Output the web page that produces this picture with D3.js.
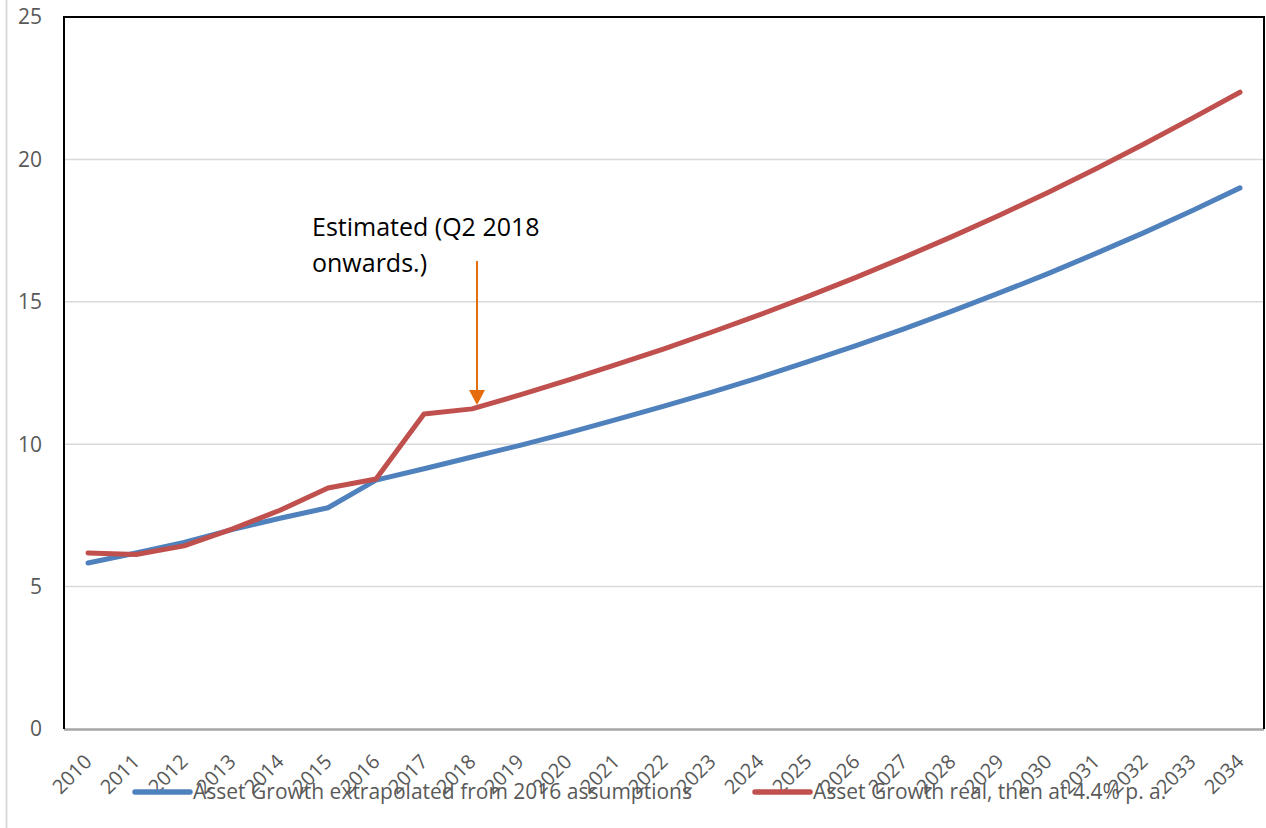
<!DOCTYPE html>
<html>
<head>
<meta charset="utf-8">
<script src="https://cdn.jsdelivr.net/npm/d3@7"></script>
<style>
  body { margin: 0; background: #fff; }
  svg { display: block; font-family: 'Open Sans', sans-serif; }
</style>
</head>
<body>
<div id="container"></div>
<script>
const years = ['2010', '2011', '2012', '2013', '2014', '2015', '2016', '2017', '2018', '2019', '2020', '2021',
  '2022', '2023', '2024', '2025', '2026', '2027', '2028', '2029', '2030', '2031', '2032', '2033', '2034'];
const extrapolated = [5.83, 6.18, 6.55, 7.0, 7.4, 7.77, 8.74, 9.14, 9.55, 9.96, 10.4, 10.86, 11.34, 11.83,
  12.35, 12.9, 13.46, 14.05, 14.67, 15.32, 15.99, 16.7, 17.43, 18.2, 19.0];
const real = [6.18, 6.13, 6.43, 7.02, 7.68, 8.46, 8.78, 11.06, 11.24, 11.73, 12.25, 12.79, 13.35, 13.94,
  14.55, 15.19, 15.86, 16.56, 17.29, 18.05, 18.84, 19.67, 20.54, 21.44, 22.36];
const yTicks = [0, 5, 10, 15, 20, 25];
const seriesNames = ['Asset Growth extrapolated from 2016 assumptions', 'Asset Growth real, then at 4.4% p. a.'];
const seriesColors = ['#4F81BD', '#C0504D'];
const noteLines = ['Estimated (Q2 2018', 'onwards.)'];
const noteYear = '2018';

const width = 1266; const height = 828;
const m = {left: 64, right: 2, top: 17, bottom: 99};

const svg = d3.select('#container').append('svg')
    .attr('width', width)
    .attr('height', height);

// outer frame edge
svg.append('line').attr('x1', 6.5).attr('x2', 6.5).attr('y1', 0).attr('y2', height)
    .attr('stroke', '#d9d9d9').attr('stroke-width', 2);

const x = d3.scaleBand().domain(years).range([m.left, width - m.right]);
const y = d3.scaleLinear().domain([0, 25]).range([height - m.bottom, m.top]);
const cx = (d) => x(d) + x.bandwidth() / 2;

// gridlines
svg.append('g')
    .selectAll('line')
    .data(yTicks.slice(1, -1))
    .join('line')
    .attr('x1', m.left).attr('x2', width - m.right)
    .attr('y1', (d) => y(d)).attr('y2', (d) => y(d))
    .attr('stroke', '#d9d9d9').attr('stroke-width', 1.5);

// y labels
svg.append('g')
    .selectAll('text')
    .data(yTicks)
    .join('text')
    .attr('x', 42).attr('y', (d) => y(d))
    .attr('dy', '0.35em')
    .attr('text-anchor', 'end')
    .attr('fill', '#595959')
    .style('font-size', '21px')
    .text((d) => d);

// x axis line
svg.append('line')
    .attr('x1', m.left).attr('x2', width - m.right)
    .attr('y1', y(0) + 0.5).attr('y2', y(0) + 0.5)
    .attr('stroke', '#a6a6a6').attr('stroke-width', 2.5);

// plot border (left, top, right)
svg.append('path')
    .attr('d', `M${m.left},${y(0)}V${m.top}H${width - m.right}V${y(0)}`)
    .attr('fill', 'none').attr('stroke', '#000').attr('stroke-width', 2);

// x labels
svg.append('g')
    .selectAll('text')
    .data(years)
    .join('text')
    .attr('transform', (d) => `translate(${cx(d) + 5},${y(0) + 34}) rotate(-45)`)
    .attr('text-anchor', 'end')
    .attr('fill', '#595959')
    .style('font-size', '20px')
    .text((d) => d);

// lines
const line = d3.line()
    .x((d, i) => cx(years[i]))
    .y((d) => y(d));

[extrapolated, real].forEach((s, i) => {
  svg.append('path')
      .datum(s)
      .attr('d', line)
      .attr('fill', 'none')
      .attr('stroke', seriesColors[i])
      .attr('stroke-width', 5)
      .attr('stroke-linecap', 'round')
      .attr('stroke-linejoin', 'round');
});

// annotation
const note = svg.append('g');
note.selectAll('text')
    .data(noteLines)
    .join('text')
    .attr('x', 312)
    .attr('y', (d, i) => 236 + i * 36)
    .attr('fill', '#000')
    .style('font-size', '25px')
    .text((d) => d);

const ax = cx(noteYear) + 5;
const tipY = y(real[years.indexOf(noteYear)]) - 4;
note.append('line')
    .attr('x1', ax).attr('x2', ax)
    .attr('y1', 261).attr('y2', tipY - 12)
    .attr('stroke', '#E46C0A').attr('stroke-width', 2);
note.append('path')
    .attr('d', `M${ax - 8},${tipY - 15}L${ax + 8},${tipY - 15}L${ax},${tipY}Z`)
    .attr('fill', '#E46C0A');

// legend
const legendX = [135, 755];
const legend = svg.append('g')
    .selectAll('g')
    .data(seriesNames)
    .join('g')
    .attr('transform', (d, i) => `translate(${legendX[i]},792)`);
legend.append('line')
    .attr('x1', 0).attr('x2', 55)
    .attr('stroke', (d, i) => seriesColors[i])
    .attr('stroke-width', 5.5)
    .attr('stroke-linecap', 'round');
legend.append('text')
    .attr('x', 58)
    .attr('dy', '0.35em')
    .attr('fill', '#595959')
    .style('font-size', '21px')
    .text((d) => d);
</script>
</body>
</html>
